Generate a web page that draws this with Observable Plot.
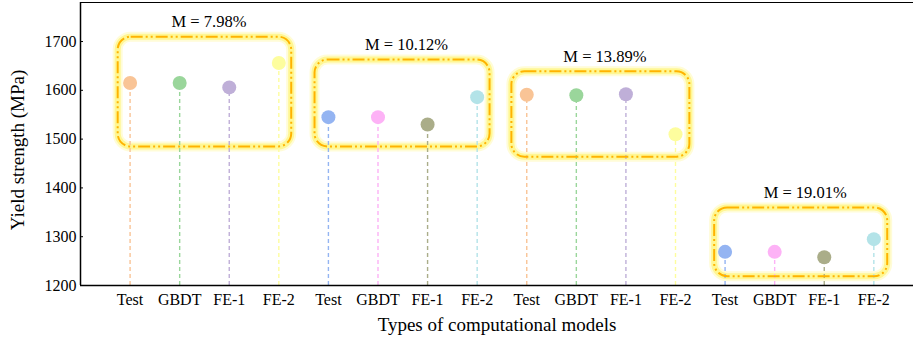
<!DOCTYPE html>
<html>
<head>
<meta charset="utf-8">
<script src="https://cdn.jsdelivr.net/npm/d3@7"></script>
<script src="https://cdn.jsdelivr.net/npm/@observablehq/plot@0.6"></script>
<style>
  html, body { margin: 0; padding: 0; background: #fff; }
</style>
</head>
<body>
<div id="chart"></div>
<script>
// ---- data ----
const categories = ["Test", "GBDT", "FE-1", "FE-2", "Test", "GBDT", "FE-1", "FE-2",
                    "Test", "GBDT", "FE-1", "FE-2", "Test", "GBDT", "FE-1", "FE-2"];
const positions = [1, 2, 3, 4, 5, 6, 7, 8, 9, 10, 11, 12, 13, 14, 15, 16];
const values = [1615, 1615, 1606, 1656,
                1545, 1545, 1530, 1586,
                1591, 1590, 1592, 1510,
                1269, 1269, 1258, 1295];
const colors = ["#F9C496", "#9AD69B", "#BFAFD8", "#FDFD9E",
                "#94B4F2", "#FDB2F6", "#AAAD89", "#B3E3E8",
                "#F9C496", "#9AD69B", "#BFAFD8", "#FDFD9E",
                "#94B4F2", "#FDB2F6", "#AAAD89", "#B3E3E8"];
const groupLabels = ["M = 7.98%", "M = 10.12%", "M = 13.89%", "M = 19.01%"];
const boxLeft = [0.76, 4.73, 8.70, 12.79];
const boxRight = [4.26, 8.26, 12.29, 16.28];
const boxTop = [1709, 1662, 1638, 1359];
const boxBottom = [1484, 1484, 1463, 1218];
const yTicks = [1200, 1300, 1400, 1500, 1600, 1700];
const xTitle = "Types of computational models";
const yTitle = "Yield strength (MPa)";

// ---- tables ----
const points = positions.map((p, i) => ({pos: p, cat: categories[i], value: values[i], color: colors[i]}));
const boxes = groupLabels.map((label, i) => ({
  label, x1: boxLeft[i], x2: boxRight[i], y1: boxBottom[i], y2: boxTop[i],
  cx: (boxLeft[i] + boxRight[i]) / 2
}));

const chart = Plot.plot({
  width: 913,
  height: 339,
  marginLeft: 80,
  marginRight: 0,
  marginTop: 2,
  marginBottom: 54,
  style: {fontFamily: "'Liberation Serif', 'Times New Roman', serif", background: "#fff", color: "#000"},
  x: {domain: [0, 16.8]},
  y: {domain: [1200, 1780]},
  marks: [
    // glow of the group boxes
    Plot.rect(boxes, {x1: "x1", x2: "x2", y1: "y1", y2: "y2", rx: 13, fill: "none",
      stroke: "#FFF57A", strokeWidth: 10, strokeOpacity: 0.3}),
    Plot.rect(boxes, {x1: "x1", x2: "x2", y1: "y1", y2: "y2", rx: 13, fill: "none",
      stroke: "#FFF250", strokeWidth: 6, strokeOpacity: 0.5}),
    // stems
    Plot.ruleX(points, {x: "pos", y1: 1200, y2: "value", stroke: "color",
      strokeWidth: 1.4, strokeDasharray: "4,3"}),
    // dashed box outline
    Plot.rect(boxes, {x1: "x1", x2: "x2", y1: "y1", y2: "y2", rx: 13, fill: "none",
      stroke: "#FFB300", strokeWidth: 2, strokeDasharray: "12,3,2,3,2,3"}),
    // lollipop heads
    Plot.dot(points, {x: "pos", y: "value", r: 7, fill: "color", stroke: "none"}),
    // group labels
    Plot.text(boxes, {x: "cx", y: "y2", text: "label", dy: -15, dx: 4,
      fontSize: 16.5, fill: "#000"}),
    // frame
    Plot.ruleY([1780], {stroke: "#000", strokeWidth: 1}),
    Plot.ruleY([1200], {stroke: "#000", strokeWidth: 1.5}),
    Plot.ruleX([0], {stroke: "#000", strokeWidth: 1.5}),
    Plot.ruleY(yTicks, {stroke: "#000", strokeWidth: 1, insetRight: 830}),
    // axes
    Plot.axisY({ticks: yTicks, tickSize: 0, tickPadding: 4, fontSize: 16,
      tickFormat: d => String(d), label: yTitle, labelAnchor: "center",
      labelOffset: 70, labelArrow: "none"}),
    Plot.axisX({ticks: positions, tickSize: 0, tickPadding: 8.5, fontSize: 16,
      tickFormat: d => categories[d - 1], label: xTitle, labelAnchor: "center",
      labelOffset: 45, labelArrow: "none"})
  ]
});

// axis title font sizes and fine placement
chart.querySelectorAll("g[aria-label='y-axis label'], g[aria-label='x-axis label']")
  .forEach(g => g.setAttribute("font-size", "19"));
chart.querySelectorAll("g[aria-label='y-axis label'] text, g[aria-label='x-axis label'] text")
  .forEach(t => t.setAttribute("font-size", "19"));
const yl = chart.querySelector("g[aria-label='y-axis label']");
if (yl) yl.setAttribute("transform", "translate(0,6) " + (yl.getAttribute("transform") || ""));
document.getElementById("chart").appendChild(chart);
</script>
</body>
</html>
